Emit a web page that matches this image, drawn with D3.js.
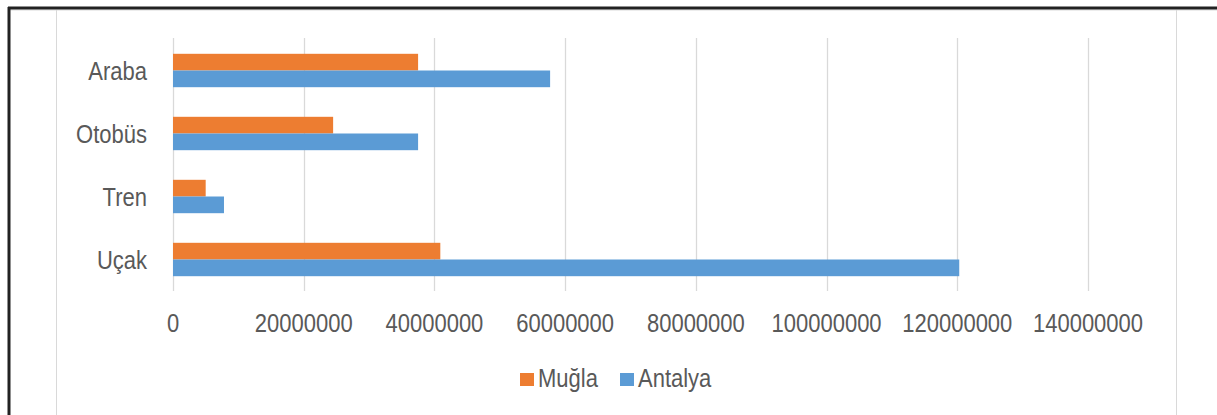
<!DOCTYPE html>
<html>
<head>
<meta charset="utf-8">
<script src="https://cdn.jsdelivr.net/npm/d3@7"></script>
<style>
  body { margin: 0; background: #fff; }
  svg { display: block; }
  text { font-family: "Liberation Sans", Arial, sans-serif; fill: #595959; }
</style>
</head>
<body>
<div id="chart"></div>
<script>
// data
var categories = ["Araba", "Otobüs", "Tren", "Uçak"];
var seriesNames = ["Muğla", "Antalya"];
var muglaValues = [37500000, 24500000, 5000000, 40900000];
var antalyaValues = [57700000, 37500000, 7800000, 120300000];
var xTicks = [0, 20000000, 40000000, 60000000, 80000000, 100000000, 120000000, 140000000];
var colors = ["#ED7D31", "#5B9BD5"];

var width = 1217, height = 415;
var sx = 0.88; // text looks horizontally squeezed

var svg = d3.select("#chart")
	.append("svg")
	.attr("width", width)
	.attr("height", height);

// frame: black border top/left, light inner box
svg.append("rect").attr("x", 0).attr("y", 0).attr("width", width).attr("height", height).attr("fill", "#fff");
svg.append("line").attr("x1", 10).attr("x2", width).attr("y1", 10).attr("y2", 10).attr("stroke", "#d9d9d9").attr("stroke-width", 1);
svg.append("line").attr("x1", 56.5).attr("x2", 56.5).attr("y1", 10).attr("y2", height).attr("stroke", "#d9d9d9").attr("stroke-width", 1);
svg.append("line").attr("x1", 1176.5).attr("x2", 1176.5).attr("y1", 10).attr("y2", height).attr("stroke", "#d9d9d9").attr("stroke-width", 1);
svg.append("line").attr("x1", 8).attr("x2", width).attr("y1", 8).attr("y2", 8).attr("stroke", "#222").attr("stroke-width", 3);
svg.append("line").attr("x1", 9).attr("x2", 9).attr("y1", 7).attr("y2", height).attr("stroke", "#222").attr("stroke-width", 3);

var x = d3.scaleLinear()
	.domain([0, 140000000])
	.range([173, 1088]);

var y = d3.scaleBand()
	.domain(categories)
	.range([39, 291])
	.paddingInner(0.47)
	.paddingOuter(0.235);

var ySub = d3.scaleBand()
	.domain(seriesNames)
	.range([0, y.bandwidth()]);

// gridlines
svg.append("g")
	.selectAll("line")
	.data(xTicks)
	.enter()
	.append("line")
		.attr("x1", function(d) { return Math.round(x(d)) + 0.5; })
		.attr("x2", function(d) { return Math.round(x(d)) + 0.5; })
		.attr("y1", 38)
		.attr("y2", 291)
		.attr("stroke", "#d9d9d9")
		.attr("stroke-width", 1.3);

// tick labels
svg.append("g")
	.selectAll("text")
	.data(xTicks)
	.enter()
	.append("text")
		.attr("transform", function(d) { return "translate(" + x(d) + ",332) scale(" + sx + ",1)"; })
		.style("text-anchor", "middle")
		.style("font-size", "25px")
		.text(function(d) { return d3.format("d")(d); });

// category labels
svg.append("g")
	.selectAll("text")
	.data(categories)
	.enter()
	.append("text")
		.attr("transform", function(d) { return "translate(147," + (y(d) + y.bandwidth() / 2 + 9) + ") scale(" + sx + ",1)"; })
		.style("text-anchor", "end")
		.style("font-size", "25px")
		.text(function(d) { return d; });

// bars
var seriesValues = [muglaValues, antalyaValues];
seriesNames.forEach(function(name, si) {
	svg.append("g")
		.selectAll("rect")
		.data(categories)
		.enter()
		.append("rect")
			.attr("x", x(0))
			.attr("y", function(d) { return y(d) + ySub(name); })
			.attr("width", function(d, i) { return x(seriesValues[si][i]) - x(0); })
			.attr("height", ySub.bandwidth())
			.attr("fill", colors[si]);
});

// legend
var legendItems = [
	{ name: seriesNames[0], x: 520, color: colors[0] },
	{ name: seriesNames[1], x: 620, color: colors[1] }
];
var legend = svg.append("g")
	.selectAll("g")
	.data(legendItems)
	.enter()
	.append("g");

legend.append("rect")
	.attr("x", function(d) { return d.x; })
	.attr("y", 373)
	.attr("width", 14)
	.attr("height", 13)
	.attr("fill", function(d) { return d.color; });

legend.append("text")
	.attr("transform", function(d) { return "translate(" + (d.x + 18) + ",387) scale(" + sx + ",1)"; })
	.style("font-size", "25px")
	.text(function(d) { return d.name; });
</script>
</body>
</html>
